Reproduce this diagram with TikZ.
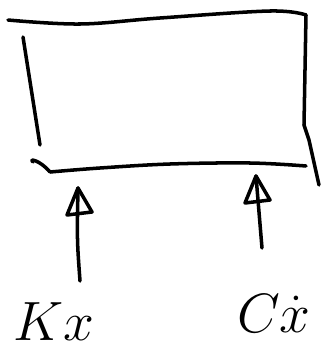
\documentclass[tikz,border=0pt]{standalone}
\usepackage{amsmath, amssymb}
\usepackage{xcolor}
\usepackage{tikz}

\begin{document}
\begin{tikzpicture}[x=0.03cm, y=-0.03cm,
    pen/.style={black, line width=3pt, line cap=round, line join=round},
    lbl/.style={font=\Huge, scale=1.9}]
\useasboundingbox (0,0) rectangle (323,355);
% box outline
\coordinate (TL) at (8,20);
\coordinate (TR) at (306,15);
\coordinate (BL) at (50,172);
\coordinate (BR) at (306,166);
\draw[pen] plot[smooth, tension=0.6] coordinates {(TL) (80,24) (160,18) (270,11) (TR)};
\draw[pen] (TR) -- (304,125) -- (309,140) -- (319,185);
\draw[pen] (23,37) -- (40,145);
\draw[pen] (33,162) .. controls (28,158) and (40,160) .. (BL);
\draw[pen] plot[smooth, tension=0.6] coordinates {(BL) (100,168) (170,164) (250,163) (BR)};
% labels
\node[lbl] (kx) at (54,322) {$Kx$};
\node[lbl] (cx) at (274,314) {$C\dot{x}$};
% forces
\coordinate (kfoot) at (80,281);
\coordinate (khead) at (78,188);
\coordinate (cfoot) at (262,248);
\coordinate (chead) at (256,176);
\draw[pen] (kfoot) .. controls (77,240) .. (khead);
\draw[pen] (cfoot) -- (chead);
\foreach \h in {khead,chead}{
    \draw[pen] (\h) -- ++(-11,27) -- ++(25,-3) -- cycle;
}
\end{tikzpicture}
\end{document}
